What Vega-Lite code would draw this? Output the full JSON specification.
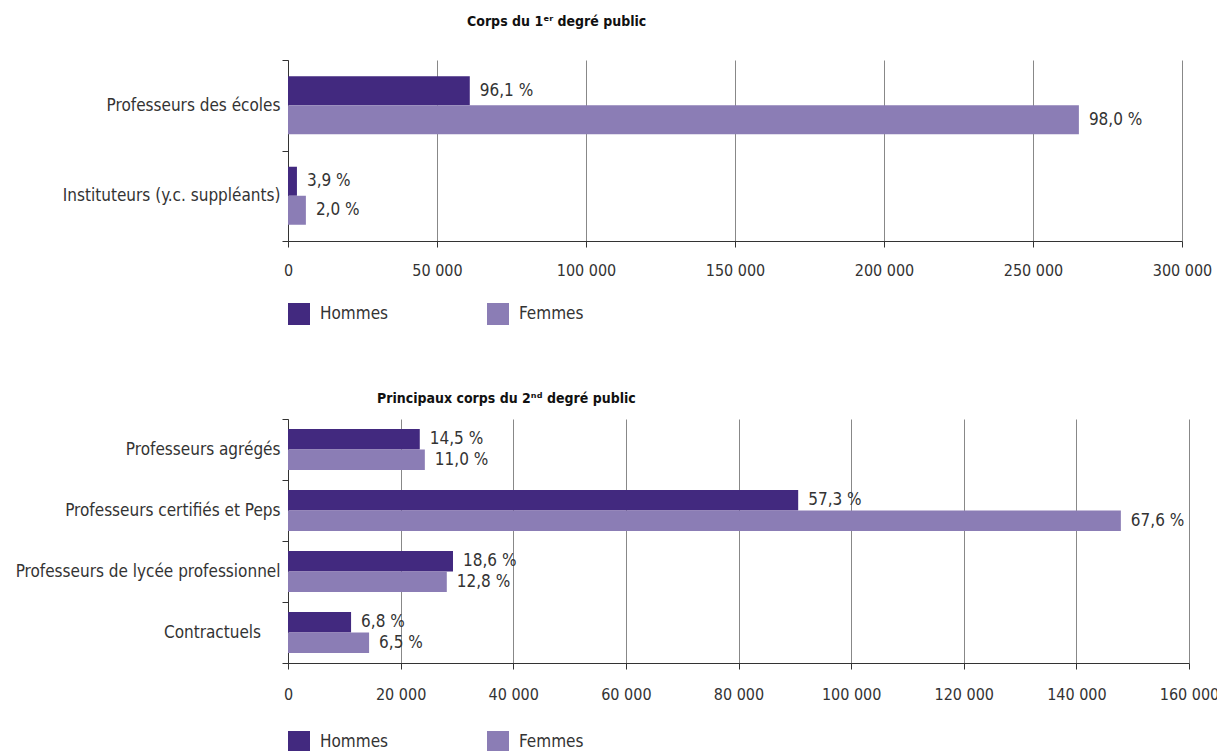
{
  "$schema": "https://vega.github.io/schema/vega-lite/v6.json",
  "background": "white",
  "padding": {"left": 15, "top": 15, "right": 0, "bottom": 0},
  "config": {
    "locale": {"number": {"decimal": ",", "thousands": " ", "grouping": [3], "currency": ["", ""]}},
    "font": "DejaVu Sans Condensed",
    "view": {"stroke": null},
    "axis": {"labelFont": "DejaVu Sans Condensed", "labelFontSize": 17, "labelColor": "#333", "labelLimit": 400, "domainColor": "#333", "tickColor": "#333", "gridColor": "#888", "gridWidth": 1, "title": null},
    "legend": {"labelFont": "DejaVu Sans Condensed", "labelFontSize": 17, "labelColor": "#333"},
    "title": {"font": "DejaVu Sans Condensed", "fontWeight": "bold", "fontSize": 14, "anchor": "start", "frame": "group", "color": "#111"},
    "text": {"font": "DejaVu Sans Condensed"},
    "concat": {"spacing": 67}
  },
  "datasets": {
    "premier": [
      {"corps": "Professeurs des écoles", "sexe": "Hommes", "effectif": 61000, "pct": "96,1 %"},
      {"corps": "Professeurs des écoles", "sexe": "Femmes", "effectif": 265400, "pct": "98,0 %"},
      {"corps": "Instituteurs (y.c. suppléants)", "sexe": "Hommes", "effectif": 3000, "pct": "3,9 %"},
      {"corps": "Instituteurs (y.c. suppléants)", "sexe": "Femmes", "effectif": 6000, "pct": "2,0 %"}
    ],
    "second": [
      {"corps": "Professeurs agrégés", "sexe": "Hommes", "effectif": 23400, "pct": "14,5 %"},
      {"corps": "Professeurs agrégés", "sexe": "Femmes", "effectif": 24300, "pct": "11,0 %"},
      {"corps": "Professeurs certifiés et Peps", "sexe": "Hommes", "effectif": 90600, "pct": "57,3 %"},
      {"corps": "Professeurs certifiés et Peps", "sexe": "Femmes", "effectif": 147900, "pct": "67,6 %"},
      {"corps": "Professeurs de lycée professionnel", "sexe": "Hommes", "effectif": 29300, "pct": "18,6 %"},
      {"corps": "Professeurs de lycée professionnel", "sexe": "Femmes", "effectif": 28200, "pct": "12,8 %"},
      {"corps": "Contractuels\u00a0\u00a0\u00a0\u00a0\u200b", "sexe": "Hommes", "effectif": 11200, "pct": "6,8 %"},
      {"corps": "Contractuels\u00a0\u00a0\u00a0\u00a0\u200b", "sexe": "Femmes", "effectif": 14400, "pct": "6,5 %"}
    ]
  },
  "vconcat": [
    {
      "title": {"text": "Corps du 1ᵉʳ degré public", "dx": 179, "offset": 22},
      "data": {"name": "premier"},
      "width": 894,
      "height": 181,
      "encoding": {
        "y": {"field": "corps", "type": "nominal", "sort": null, "scale": {"paddingInner": 0, "paddingOuter": 0}, "axis": {"tickBand": "extent", "tickSize": 6, "labelPadding": 2, "grid": false}},
        "yOffset": {"field": "sexe", "type": "nominal", "sort": ["Hommes", "Femmes"], "scale": {"paddingInner": 0, "paddingOuter": 0.56}},
        "x": {"field": "effectif", "type": "quantitative", "scale": {"domain": [0, 300000], "nice": false}, "axis": {"values": [0, 50000, 100000, 150000, 200000, 250000, 300000], "grid": true, "tickSize": 6, "labelPadding": 15, "labelFontSize": 16, "labelFlush": false, "format": ",d"}}
      },
      "layer": [
        {
          "mark": {"type": "bar"},
          "encoding": {
            "color": {"field": "sexe", "type": "nominal", "sort": ["Hommes", "Femmes"], "scale": {"domain": ["Hommes", "Femmes"], "range": ["#42297f", "#8b7db5"]},
              "legend": {"orient": "bottom", "direction": "horizontal", "title": null, "symbolType": "square", "symbolSize": 484, "columnPadding": 98, "offset": 25, "labelOffset": 10, "symbolStrokeWidth": 0, "symbolOpacity": 1}}
          }
        },
        {
          "mark": {"type": "text", "align": "left", "baseline": "middle", "dx": 10, "fontSize": 17, "color": "#333"},
          "encoding": {"text": {"field": "pct", "type": "nominal"}}
        }
      ]
    },
    {
      "title": {"text": "Principaux corps du 2ⁿᵈ degré public", "dx": 89, "offset": 4},
      "data": {"name": "second"},
      "width": 901,
      "height": 244,
      "encoding": {
        "y": {"field": "corps", "type": "nominal", "sort": null, "scale": {"paddingInner": 0, "paddingOuter": 0}, "axis": {"tickBand": "extent", "tickSize": 6, "labelPadding": 2, "grid": false}},
        "yOffset": {"field": "sexe", "type": "nominal", "sort": ["Hommes", "Femmes"], "scale": {"paddingInner": 0, "paddingOuter": 0.49}},
        "x": {"field": "effectif", "type": "quantitative", "scale": {"domain": [0, 160000], "nice": false}, "axis": {"values": [0, 20000, 40000, 60000, 80000, 100000, 120000, 140000, 160000], "grid": true, "tickSize": 6, "labelPadding": 17, "labelFontSize": 16, "labelFlush": false, "format": ",d"}}
      },
      "layer": [
        {
          "mark": {"type": "bar"},
          "encoding": {
            "color": {"field": "sexe", "type": "nominal", "sort": ["Hommes", "Femmes"], "scale": {"domain": ["Hommes", "Femmes"], "range": ["#42297f", "#8b7db5"]},
              "legend": {"orient": "bottom", "direction": "horizontal", "title": null, "symbolType": "square", "symbolSize": 484, "columnPadding": 98, "offset": 29, "labelOffset": 10, "symbolStrokeWidth": 0, "symbolOpacity": 1}}
          }
        },
        {
          "mark": {"type": "text", "align": "left", "baseline": "middle", "dx": 10, "fontSize": 17, "color": "#333"},
          "encoding": {"text": {"field": "pct", "type": "nominal"}}
        }
      ]
    }
  ],
  "resolve": {"scale": {"yOffset": "independent"}, "legend": {"color": "independent"}}
}
